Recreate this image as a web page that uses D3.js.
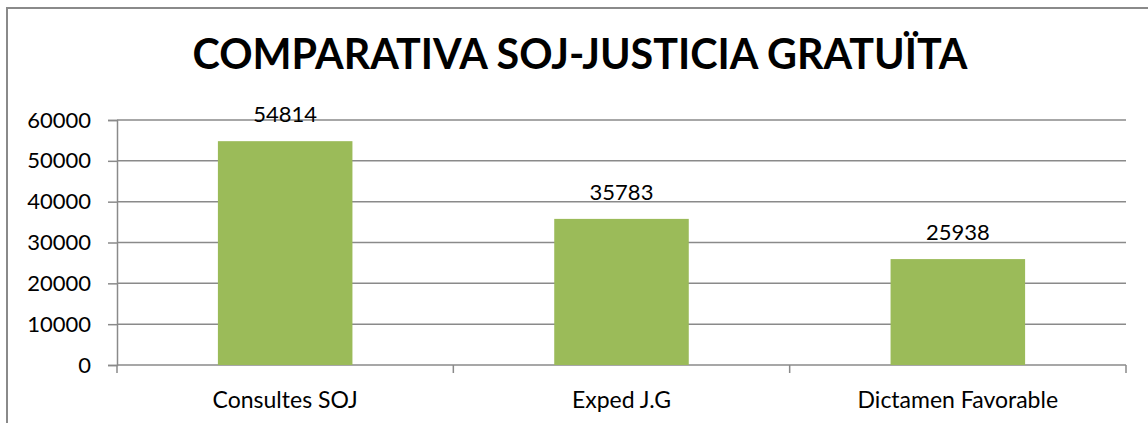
<!DOCTYPE html>
<html>
<head>
<meta charset="utf-8">
<script src="https://cdn.jsdelivr.net/npm/d3@7"></script>
<style>
  body { margin: 0; background: #fff; }
  text { font-family: Lato, "Open Sans", sans-serif; fill: #000; }
</style>
</head>
<body>
<div id="chart"></div>
<script>
// data
var categories = ["Consultes SOJ", "Exped J.G", "Dictamen Favorable"];
var values = [54814, 35783, 25938];
var yTicks = [0, 10000, 20000, 30000, 40000, 50000, 60000];
var title = "COMPARATIVA SOJ-JUSTICIA GRATUÏTA";

var svgWidth = 1148;
var svgHeight = 423;

var margin = { top: 120, right: 22, bottom: 58, left: 117 };
var width = svgWidth - margin.left - margin.right;
var height = svgHeight - margin.top - margin.bottom;

var svg = d3.select("#chart")
  .append("svg")
  .attr("width", svgWidth)
  .attr("height", svgHeight);

// outer chart border (cut off on the right and bottom)
svg.append("rect")
  .attr("x", 7)
  .attr("y", 8)
  .attr("width", svgWidth + 20)
  .attr("height", svgHeight + 20)
  .attr("fill", "none")
  .attr("stroke", "#8a8a8a")
  .attr("stroke-width", 2);

// title, fitted to the reference width
var titleText = svg.append("text")
  .attr("x", 580)
  .attr("y", 69)
  .attr("text-anchor", "middle")
  .attr("font-weight", "bold")
  .attr("font-size", 40)
  .text(title);
var tw = titleText.node().getComputedTextLength();
titleText.attr("font-size", 40 * 775 / tw);

var chartGroup = svg.append("g")
  .attr("transform", `translate(${margin.left}, ${margin.top})`);

var x = d3.scaleBand()
  .domain(categories)
  .range([0, width])
  .paddingInner(0.6)
  .paddingOuter(0.3);

var y = d3.scaleLinear()
  .domain([0, 60000])
  .range([height, 0]);

// gridlines
chartGroup.append("g")
  .selectAll("line")
  .data(yTicks.slice(1))
  .enter()
  .append("line")
  .attr("x1", 0)
  .attr("x2", width)
  .attr("y1", d => y(d))
  .attr("y2", d => y(d))
  .attr("stroke", "#8a8a8a")
  .attr("stroke-width", 1.5);

// left axis
var leftAxis = d3.axisLeft(y)
  .tickValues(yTicks)
  .tickSize(9)
  .tickPadding(17)
  .tickFormat(d3.format("d"));

var yAxisG = chartGroup.append("g").call(leftAxis);
yAxisG.select(".domain").attr("stroke", "#8a8a8a").attr("stroke-width", 1.5);
yAxisG.selectAll(".tick line").attr("stroke", "#8a8a8a").attr("stroke-width", 1.5);
yAxisG.selectAll("text")
  .attr("font-size", 22)
  .attr("font-family", "Lato, sans-serif")
  .attr("fill", "#000");

// bottom axis: ticks at category boundaries
var edges = d3.range(categories.length + 1).map(i => i * width / categories.length);
var xAxisG = chartGroup.append("g")
  .attr("transform", `translate(0, ${height})`);
xAxisG.append("line")
  .attr("x1", 0)
  .attr("x2", width)
  .attr("stroke", "#8a8a8a")
  .attr("stroke-width", 1.5);
xAxisG.selectAll(".edge")
  .data(edges)
  .enter()
  .append("line")
  .attr("class", "edge")
  .attr("x1", d => d)
  .attr("x2", d => d)
  .attr("y1", 0)
  .attr("y2", 8)
  .attr("stroke", "#8a8a8a")
  .attr("stroke-width", 1.5);
xAxisG.selectAll(".cat")
  .data(categories)
  .enter()
  .append("text")
  .attr("class", "cat")
  .attr("x", d => x(d) + x.bandwidth() / 2)
  .attr("y", 43)
  .attr("text-anchor", "middle")
  .attr("font-size", 23)
  .text(d => d);

// bars
chartGroup.selectAll(".bar")
  .data(values)
  .enter()
  .append("rect")
  .attr("class", "bar")
  .attr("x", (d, i) => x(categories[i]))
  .attr("y", d => y(d))
  .attr("width", x.bandwidth())
  .attr("height", d => height - y(d))
  .attr("fill", "#9bbb59");

// value labels
chartGroup.selectAll(".val")
  .data(values)
  .enter()
  .append("text")
  .attr("class", "val")
  .attr("x", (d, i) => x(categories[i]) + x.bandwidth() / 2)
  .attr("y", d => y(d) - 19)
  .attr("text-anchor", "middle")
  .attr("font-size", 22)
  .text(d => d);
</script>
</body>
</html>
